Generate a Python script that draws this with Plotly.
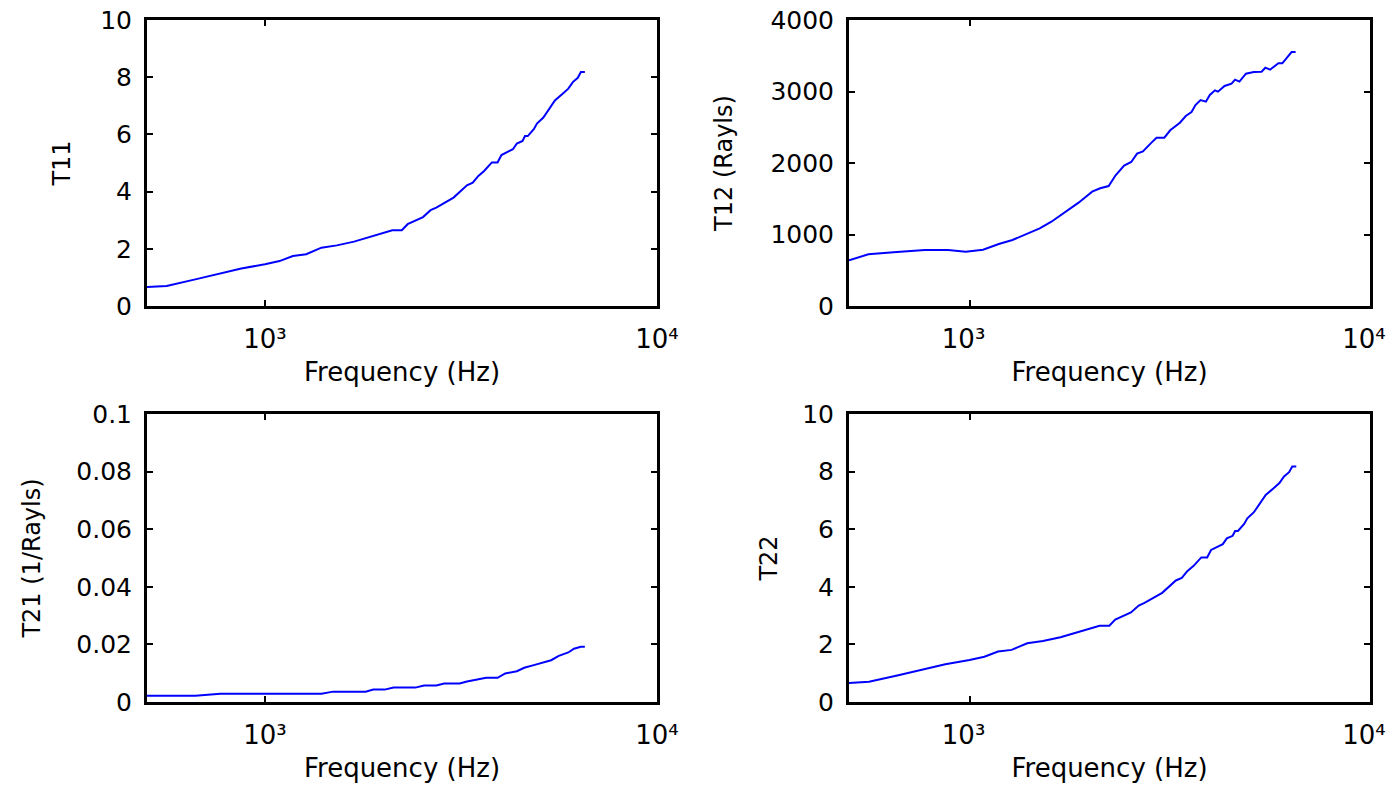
import math
import plotly.graph_objects as go

# ---------------- data ----------------
freq_t11 = [500, 561, 664, 760, 870, 1000, 1089, 1178, 1274, 1393, 1525, 1687, 1825, 1996,
            2112, 2234, 2311, 2530, 2645, 2735, 3027, 3275, 3388, 3502, 3622, 3791, 3920,
            4010, 4150, 4290, 4390, 4540, 4605, 4680, 4850, 4940, 5130, 5305, 5490, 5745,
            5940, 6100, 6280, 6395, 6545]
t11 = [0.66, 0.70, 0.93, 1.13, 1.31, 1.46, 1.57, 1.75, 1.81, 2.04, 2.12, 2.25, 2.39, 2.54,
       2.65, 2.65, 2.86, 3.11, 3.35, 3.44, 3.79, 4.22, 4.31, 4.55, 4.72, 5.02, 5.02,
       5.28, 5.38, 5.48, 5.68, 5.77, 5.94, 5.94, 6.18, 6.38, 6.59, 6.88, 7.19, 7.42,
       7.60, 7.83, 7.98, 8.18, 8.18]

freq_t12 = [500, 559, 646, 773, 884, 978, 1081, 1183, 1280, 1384, 1497, 1601, 1731, 1872,
            2024, 2119, 2225, 2316, 2432, 2534, 2620, 2710, 2834, 2930, 3065, 3170, 3352,
            3467, 3583, 3666, 3775, 3893, 3981, 4100, 4172, 4333, 4510, 4603, 4720, 4900,
            5125, 5360, 5480, 5630, 5906, 6040, 6205, 6370, 6520]
t12 = [639, 723, 751, 783, 783, 760, 788, 867, 923, 1002, 1086, 1179, 1315, 1445,
       1599, 1646, 1678, 1828, 1963, 2014, 2131, 2163, 2275, 2354, 2354, 2457, 2564,
       2657, 2713, 2811, 2881, 2858, 2951, 3016, 2998, 3077, 3110, 3166, 3138, 3249,
       3273, 3277, 3333, 3305, 3394, 3394, 3473, 3552, 3552]

freq_t21 = [500, 664, 770, 931, 1393, 1492, 1806, 1889, 2019, 2128, 2418, 2545, 2735, 2865,
            3136, 3275, 3467, 3666, 3920, 4100, 4390, 4585, 4850, 5130, 5370, 5615, 5940,
            6140, 6395, 6545]
t21 = [0.0022, 0.0022, 0.0029, 0.0029, 0.0029, 0.0036, 0.0036, 0.0043, 0.0043, 0.0050,
       0.0050, 0.0057, 0.0057, 0.0064, 0.0064, 0.0071, 0.0077, 0.0084, 0.0084, 0.0099,
       0.0107, 0.0119, 0.0128, 0.0136, 0.0145, 0.0160, 0.0172, 0.0185, 0.0192, 0.0192]

freq_t22 = [500, 561, 664, 760, 870, 1000, 1089, 1178, 1274, 1393, 1525, 1687, 1825, 1996,
            2112, 2234, 2311, 2530, 2645, 2735, 3027, 3275, 3388, 3502, 3622, 3791, 3920,
            4010, 4150, 4290, 4390, 4540, 4605, 4680, 4850, 4940, 5130, 5305, 5490, 5745,
            5940, 6100, 6280, 6395, 6545]
t22 = [0.66, 0.70, 0.93, 1.13, 1.31, 1.46, 1.57, 1.75, 1.81, 2.04, 2.12, 2.25, 2.39, 2.54,
       2.65, 2.65, 2.86, 3.11, 3.35, 3.44, 3.79, 4.22, 4.31, 4.55, 4.72, 5.02, 5.02,
       5.28, 5.38, 5.48, 5.68, 5.77, 5.94, 5.94, 6.18, 6.38, 6.59, 6.88, 7.19, 7.42,
       7.60, 7.83, 7.98, 8.18, 8.18]

x_tickvals = [1000, 10000]
x_ticktext = ["10\u00b3", "10\u2074"]
x_title = "Frequency (Hz)"

y11_ticks = [0, 2, 4, 6, 8, 10]
y12_ticks = [0, 1000, 2000, 3000, 4000]
y21_ticks = [0, 0.02, 0.04, 0.06, 0.08, 0.1]
y21_text = ["0", "0.02", "0.04", "0.06", "0.08", "0.1"]
y22_ticks = [0, 2, 4, 6, 8, 10]

panels = [
    # (xaxis id, yaxis id, freq, values, y title, y range, tickvals, ticktext, xdomain, ydomain)
    ("x", "y", freq_t11, t11, "T11", [0, 10], y11_ticks, None, "L", "T"),
    ("x2", "y2", freq_t12, t12, "T12 (Rayls)", [0, 4000], y12_ticks, None, "R", "T"),
    ("x3", "y3", freq_t21, t21, "T21 (1/Rayls)", [0, 0.1], y21_ticks, y21_text, "L", "B"),
    ("x4", "y4", freq_t22, t22, "T22", [0, 10], y22_ticks, None, "R", "B"),
]

W, H = 1389, 785
xdom = {"L": [147 / W, 657 / W], "R": [849 / W, 1370 / W]}
ydom = {"T": [1 - 306 / H, 1 - 20 / H], "B": [1 - 702 / H, 1 - 414 / H]}

FONT = "DejaVu Sans"
fig = go.Figure()

layout = dict(
    width=W, height=H,
    margin=dict(l=0, r=0, t=0, b=0),
    paper_bgcolor="white", plot_bgcolor="white",
    showlegend=False,
    font=dict(family=FONT, size=24, color="black"),
)

y_standoff = {"T11": 23, "T12 (Rayls)": 31, "T21 (1/Rayls)": 29, "T22": 18}

for xa, ya, fx, fy, ytitle, yr, ytv, ytt, xd, yd in panels:
    fig.add_trace(go.Scatter(x=fx, y=fy, mode="lines", xaxis=xa, yaxis=ya,
                             line=dict(color="#0000FF", width=2)))
    xkey = "xaxis" if xa == "x" else "xaxis" + xa[1:]
    ykey = "yaxis" if ya == "y" else "yaxis" + ya[1:]
    layout[xkey] = dict(
        type="log", range=[math.log10(500), 4], domain=xdom[xd], anchor=ya,
        tickvals=x_tickvals, ticktext=x_ticktext,
        ticks="inside", ticklen=6, tickwidth=2, tickcolor="black",
        showline=True, linecolor="black", linewidth=3, mirror="ticks",
        showgrid=False, zeroline=False, automargin=False,
        tickfont=dict(family=FONT, size=26, color="black"),
        ticklabelstandoff=8, ticklabeloverflow="allow",
        ticklabelshift=-6 if xd == "R" else 0,
        title=dict(text=x_title, font=dict(family=FONT, size=26, color="black"), standoff=10),
    )
    layout[ykey] = dict(
        range=yr, domain=ydom[yd], anchor=xa,
        tickvals=ytv, ticktext=ytt if ytt else [str(v) for v in ytv],
        ticks="inside", ticklen=6, tickwidth=2, tickcolor="black",
        showline=True, linecolor="black", linewidth=3, mirror="ticks",
        showgrid=False, zeroline=False, automargin=False,
        tickfont=dict(family=FONT, size=25, color="black"),
        ticklabelstandoff=7, ticklabeloverflow="allow",
        title=dict(text=ytitle, font=dict(family=FONT, size=24, color="black"),
                   standoff=y_standoff[ytitle]),
    )

fig.update_layout(**layout)
fig.write_html("out.html")
